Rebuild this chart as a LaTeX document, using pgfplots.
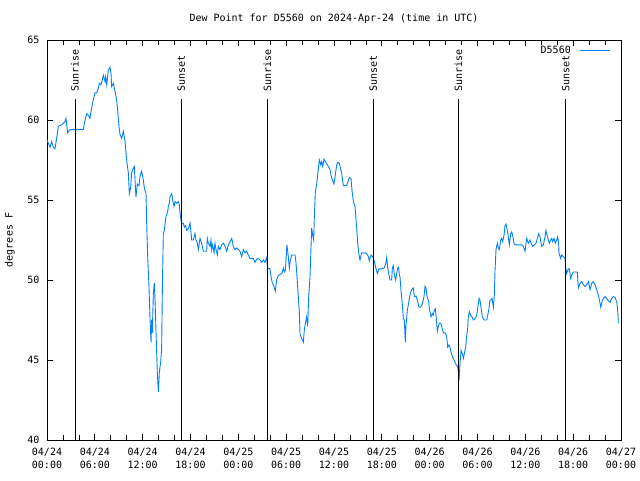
\documentclass[border=0pt]{standalone}
\usepackage{fontspec}
\setmainfont{DejaVu Sans Mono}
\usepackage{pgfplots}
\pgfplotsset{compat=1.18}
\definecolor{dew}{RGB}{0,128,255}
\begin{document}
\fontsize{10}{12}\selectfont
\begin{tikzpicture}
\begin{axis}[
  scale only axis, width=574pt, height=400pt,
  xmin=0, xmax=72, ymin=40, ymax=65,
  xtick={0,6,...,72}, minor x tick num=2,
  ytick={40,45,...,65},
  xticklabels={{04/24\\00:00},{04/24\\06:00},{04/24\\12:00},{04/24\\18:00},{04/25\\00:00},{04/25\\06:00},{04/25\\12:00},{04/25\\18:00},{04/26\\00:00},{04/26\\06:00},{04/26\\12:00},{04/26\\18:00},{04/27\\00:00}},
  xticklabel style={align=center, font=\fontsize{10}{13}\selectfont, yshift=-5pt},
  yticklabel style={font=\fontsize{10}{12}\selectfont, xshift=-4pt},
  /pgf/number format/assume math mode=true,
  tick align=inside,
  major tick length=6pt, minor tick length=5pt,
  tick style={black, line width=0.7pt},
  axis line style={line width=0.8pt},
  legend style={at={(1,1)}, anchor=north east, xshift=-10pt, yshift=-4pt, draw=none, fill=none, font=\fontsize{10}{12}\selectfont, inner sep=0pt, column sep=7pt},
  legend plot pos=right,
  legend cell align=right,
  legend image code/.code={\draw[#1, line width=1pt] (0pt,0pt) -- (30pt,0pt);},
]
\addplot[dew, line width=0.9pt] table {
0 58.75
0.38 58.3
0.59 58.65
0.79 58.3
1.0 58.2
1.21 58.85
1.42 59.6
1.84 59.7
2.26 59.9
2.38 60.1
2.59 59.2
2.89 59.4
4.56 59.4
4.68 59.8
4.98 60.4
5.18 60.3
5.39 60.1
5.48 60.4
5.69 61.0
6.02 61.7
6.23 61.7
6.44 61.98
6.56 62.3
6.77 62.2
6.94 62.5
7.07 62.8
7.28 62.4
7.36 62.7
7.49 62.2
7.69 63.1
7.90 63.3
8.03 62.9
8.11 62.1
8.32 62.3
8.53 61.8
8.74 61.25
8.86 60.6
9.03 59.6
9.16 59.1
9.37 58.85
9.57 59.3
9.78 58.7
9.99 57.5
10.2 56.7
10.33 55.4
10.5 55.8
10.62 56.7
10.83 57.0
10.95 57.1
11.04 56.25
11.16 55.2
11.33 56.0
11.54 55.9
11.67 56.5
11.87 56.8
12.08 56.25
12.21 55.75
12.42 55.4
12.50 53.6
12.63 51.5
12.79 49.6
12.92 47.6
13.05 46.1
13.13 47.5
13.21 46.7
13.34 49.2
13.46 49.8
13.55 48.75
13.63 47.5
13.76 45.4
13.84 44.2
13.97 43.0
14.09 44.2
14.26 44.9
14.38 45.7
14.47 49.4
14.59 52.9
14.72 53.1
14.8 53.5
14.93 53.96
15.14 54.3
15.22 54.6
15.35 54.8
15.43 55.2
15.64 55.4
15.76 55.0
15.93 54.6
16.06 54.9
16.27 54.8
16.47 54.9
16.6 54.7
16.68 54.2
16.81 53.75
16.89 53.5
17.1 53.55
17.23 53.3
17.39 53.4
17.52 53.1
17.73 53.2
17.94 53.56
18.06 53.0
18.15 52.5
18.36 52.5
18.57 52.9
18.69 52.5
18.86 52.3
18.98 51.9
19.19 52.6
19.4 52.3
19.61 51.8
20.03 51.8
20.11 52.6
20.24 52.3
20.45 52.1
20.57 52.5
20.66 51.9
20.78 52.2
20.95 51.7
21.07 52.3
21.2 51.9
21.37 51.56
21.49 52.1
21.7 51.9
21.91 52.2
22.12 52.3
22.33 52.1
22.54 51.8
22.75 52.2
22.96 52.4
23.17 52.6
23.37 52.1
23.58 51.9
23.79 52.0
24.0 51.9
24.21 51.8
24.42 51.46
24.63 51.9
24.84 51.7
25.04 51.8
25.25 51.56
25.46 51.35
25.88 51.35
26.09 51.1
26.3 51.3
26.51 51.35
26.72 51.25
26.93 51.1
27.14 51.25
27.35 51.1
27.55 51.4
27.68 50.75
27.97 50.7
28.1 50.2
28.27 49.8
28.47 49.6
28.64 49.3
28.81 50.0
29.02 50.3
29.44 50.4
29.65 50.75
29.77 50.5
29.9 50.6
29.98 51.25
30.1 52.2
30.27 51.46
30.4 50.75
30.48 51.1
30.69 51.56
31.11 51.56
31.23 51.1
31.4 49.9
31.65 48.0
31.74 46.6
31.95 46.35
32.15 46.1
32.28 46.9
32.45 47.4
32.57 47.7
32.7 47.1
32.82 48.9
32.99 50.2
33.12 52.1
33.2 53.25
33.33 52.8
33.45 52.5
33.53 53.85
33.66 55.5
33.83 56.0
34.04 56.98
34.16 57.5
34.33 57.2
34.45 57.4
34.58 57.1
34.75 57.56
34.91 57.4
35.08 57.25
35.29 57.1
35.5 56.9
35.62 56.56
35.79 56.25
36.0 56.0
36.13 56.46
36.34 57.2
36.46 57.35
36.67 57.3
36.84 56.9
36.96 56.7
37.17 55.9
37.59 55.9
37.72 56.1
37.93 56.4
38.13 56.35
38.26 55.6
38.43 54.9
38.64 54.6
38.85 53.2
38.97 52.3
39.14 51.56
39.26 51.25
39.47 51.7
39.89 51.7
40.18 51.6
40.31 51.46
40.43 51.2
40.64 51.56
40.85 51.46
41.02 51.25
41.14 51.0
41.27 50.7
41.44 50.4
41.65 50.7
41.98 50.7
42.27 50.75
42.48 51.0
42.61 51.4
42.73 50.8
42.9 50.3
43.03 50.0
43.23 50.0
43.32 50.75
43.44 50.9
43.57 50.3
43.74 50.0
43.86 50.4
43.99 50.75
44.11 50.8
44.2 50.3
44.28 50.2
44.41 49.3
44.57 48.5
44.7 47.6
44.82 47.5
44.95 46.1
45.03 47.2
45.2 48.1
45.37 48.6
45.53 49.06
45.74 49.4
45.95 49.5
46.08 48.96
46.29 49.0
46.45 48.75
46.66 48.3
46.87 48.3
47.08 48.5
47.29 48.96
47.42 49.6
47.54 49.5
47.67 48.96
47.88 48.65
47.96 48.2
48.17 47.7
48.34 47.9
48.46 47.8
48.59 48.1
48.71 48.2
48.8 47.8
48.96 46.8
49.09 47.1
49.21 47.3
49.38 47.3
49.51 47.1
49.72 46.7
49.93 46.7
50.13 46.5
50.26 45.8
50.43 45.94
50.55 45.8
50.68 45.5
50.85 45.2
51.06 45.0
51.18 44.85
51.39 44.65
51.52 44.6
51.6 44.27
51.69 43.75
51.81 44.8
51.94 45.6
52.1 45.4
52.23 45.1
52.35 45.4
52.52 45.8
52.64 46.5
52.77 47.0
52.85 47.7
52.98 48.0
53.14 47.8
53.31 47.7
53.48 47.5
53.69 47.6
53.9 47.8
54.02 48.2
54.19 48.85
54.31 48.75
54.44 48.3
54.61 47.7
54.82 47.5
55.15 47.5
55.28 47.8
55.44 48.2
55.57 48.75
55.7 48.75
55.82 48.85
55.99 48.3
56.11 49.06
56.2 50.6
56.32 51.9
56.49 52.3
56.62 52.0
56.74 51.9
56.91 52.5
57.03 52.6
57.16 52.4
57.33 52.8
57.45 53.4
57.58 53.5
57.74 53.1
57.87 52.7
57.99 52.2
58.16 52.9
58.29 53.0
58.41 52.8
58.58 52.3
58.71 52.2
59.54 52.2
59.75 52.1
59.96 51.8
60.17 52.6
60.38 52.3
60.59 52.5
60.71 52.3
60.92 52.1
61.13 52.2
61.34 52.3
61.51 52.6
61.67 52.9
61.84 52.7
62.05 52.1
62.26 52.2
62.47 52.7
62.59 53.1
62.68 52.9
62.89 52.5
63.01 52.3
63.18 52.5
63.31 52.6
63.43 52.4
63.6 52.6
63.76 52.3
63.93 52.5
64.06 52.7
64.18 52.3
64.22 51.7
64.43 51.35
64.56 51.56
64.77 51.46
64.98 51.35
65.06 50.8
65.18 50.4
65.39 50.7
65.52 50.7
65.69 50.1
65.81 50.3
66.02 50.5
66.52 50.5
66.65 49.5
66.86 49.8
67.07 49.9
67.28 49.7
67.49 49.6
67.7 49.7
67.91 49.9
68.12 49.4
68.33 49.8
68.54 49.9
68.74 49.7
68.95 49.4
69.16 49.06
69.29 48.75
69.46 48.3
69.62 48.65
69.79 48.85
70.0 48.96
70.21 48.85
70.42 48.7
70.63 48.6
70.83 48.85
71.04 48.96
71.25 48.9
71.46 48.65
71.58 48.1
71.67 47.3
};
\addlegendentry{D5560}
\addplot[black, line width=0.8pt, forget plot] coordinates {(3.51,40) (3.51,61.3)};
\addplot[black, line width=0.8pt, forget plot] coordinates {(16.85,40) (16.85,61.3)};
\addplot[black, line width=0.8pt, forget plot] coordinates {(27.64,40) (27.64,61.3)};
\addplot[black, line width=0.8pt, forget plot] coordinates {(40.93,40) (40.93,61.3)};
\addplot[black, line width=0.8pt, forget plot] coordinates {(51.6,40) (51.6,61.3)};
\addplot[black, line width=0.8pt, forget plot] coordinates {(65.06,40) (65.06,61.3)};
\node[rotate=90, anchor=west, inner sep=0pt] at (axis cs:3.51,61.75) {Sunrise};
\node[rotate=90, anchor=west, inner sep=0pt] at (axis cs:16.85,61.75) {Sunset};
\node[rotate=90, anchor=west, inner sep=0pt] at (axis cs:27.64,61.75) {Sunrise};
\node[rotate=90, anchor=west, inner sep=0pt] at (axis cs:40.93,61.75) {Sunset};
\node[rotate=90, anchor=west, inner sep=0pt] at (axis cs:51.6,61.75) {Sunrise};
\node[rotate=90, anchor=west, inner sep=0pt] at (axis cs:65.06,61.75) {Sunset};
\end{axis}
\node at (287pt,421pt) {Dew Point for D5560 on 2024-Apr-24 (time in UTC)};
\node[rotate=90] at (-37pt,200pt) {degrees F};
\pgfresetboundingbox
\path[use as bounding box] (-47pt,-40pt) rectangle (593pt,440pt);
\end{tikzpicture}
\end{document}
